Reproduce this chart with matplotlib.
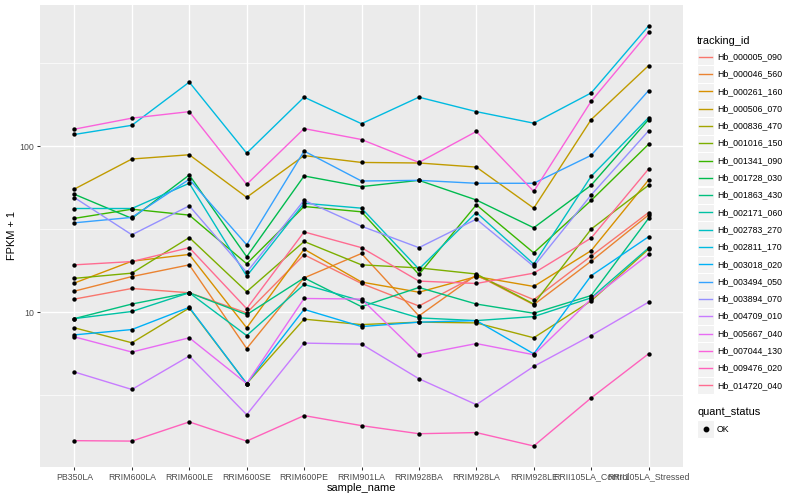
import matplotlib.pyplot as plt
import numpy as np
import matplotlib.ticker as ticker
from matplotlib.lines import Line2D
from matplotlib.patches import Rectangle

plt.rcParams['font.family'] = ['Liberation Sans', 'DejaVu Sans']

samples = ["PB350LA", "RRIM600LA", "RRIM600LE", "RRIM600SE", "RRIM600PE",
           "RRIM901LA", "RRIM928BA", "RRIM928LA", "RRIM928LE",
           "RRII105LA_Control", "RRII105LA_Stressed"]

ids = ["Hb_000005_090", "Hb_000046_560", "Hb_000261_160", "Hb_000506_070",
       "Hb_000836_470", "Hb_001016_150", "Hb_001341_090", "Hb_001728_030",
       "Hb_001863_430", "Hb_002171_060", "Hb_002783_270", "Hb_002811_170",
       "Hb_003018_020", "Hb_003494_050", "Hb_003894_070", "Hb_004709_010",
       "Hb_005667_040", "Hb_007044_130", "Hb_009476_020", "Hb_014720_040"]

colors = ["#F8766D", "#EA8331", "#D89000", "#C09B00", "#A3A500", "#7CAE00",
          "#39B600", "#00BB4E", "#00BF7D", "#00C1A3", "#00BFC4", "#00BAE0",
          "#00B0F6", "#35A2FF", "#9590FF", "#C77CFF", "#E76BF3", "#FA62DB",
          "#FF62BC", "#FF6C91"]

# FPKM + 1
Hb_000005_090 = [12.0, 13.9, 13.1, 9.90, 22.2, 14.9, 10.9, 16.6, 11.9, 21.8, 39.9]
Hb_000046_560 = [13.4, 16.4, 19.3, 6.04, 16.1, 22.6, 9.50, 16.8, 11.1, 20.3, 38.6]
Hb_000261_160 = [15.0, 20.3, 22.3, 8.05, 24.0, 15.2, 13.2, 16.4, 14.3, 23.5, 62.7]
Hb_000506_070 = [55.3, 83.9, 89.0, 49.3, 88.0, 80.0, 79.4, 75.0, 42.4, 145, 307]
Hb_000836_470 = [8.05, 6.54, 10.6, 3.71, 9.08, 8.42, 8.71, 8.62, 7.01, 11.7, 24.0]
Hb_001016_150 = [16.0, 17.2, 28.2, 13.3, 26.7, 19.3, 18.5, 17.0, 11.2, 31.7, 58.3]
Hb_001341_090 = [36.8, 41.8, 38.5, 19.6, 43.4, 40.3, 16.9, 44.4, 22.8, 47.2, 103]
Hb_001728_030 = [51.4, 36.8, 67.2, 21.6, 66.3, 57.2, 62.4, 47.5, 32.3, 58.3, 145]
Hb_001863_430 = [9.15, 11.2, 13.1, 9.67, 16.1, 10.8, 14.1, 11.2, 9.86, 12.6, 36.8]
Hb_002171_060 = [9.15, 10.1, 13.1, 7.23, 14.7, 11.7, 9.24, 8.90, 9.41, 12.2, 24.4]
Hb_002783_270 = [42.2, 42.2, 59.9, 16.5, 45.4, 42.4, 18.2, 39.9, 19.5, 66.0, 149]
Hb_002811_170 = [118, 134, 244, 91.0, 198, 137, 198, 162, 138, 210, 532]
Hb_003018_020 = [7.30, 7.86, 10.7, 3.71, 10.4, 8.19, 8.71, 8.90, 5.61, 16.6, 28.5]
Hb_003494_050 = [34.6, 37.3, 63.3, 25.5, 93.7, 61.8, 62.4, 59.9, 59.9, 88.3, 217]
Hb_003894_070 = [49.1, 29.3, 43.8, 17.4, 47.3, 33.0, 24.5, 36.4, 18.9, 50.9, 124]
Hb_004709_010 = [4.36, 3.42, 5.44, 2.41, 6.51, 6.42, 3.97, 2.77, 4.71, 7.23, 11.5]
Hb_005667_040 = [7.10, 5.75, 7.01, 3.71, 12.1, 12.0, 5.54, 6.47, 5.54, 12.0, 22.3]
Hb_007044_130 = [127, 148, 162, 59.0, 128, 110, 80.0, 123, 53.5, 187, 487]
Hb_009476_020 = [1.68, 1.67, 2.18, 1.67, 2.38, 2.07, 1.85, 1.88, 1.56, 3.04, 5.61]
Hb_014720_040 = [19.3, 20.2, 24.5, 10.5, 30.5, 24.5, 15.4, 14.9, 17.2, 28.0, 73.0]

series = [Hb_000005_090, Hb_000046_560, Hb_000261_160, Hb_000506_070,
          Hb_000836_470, Hb_001016_150, Hb_001341_090, Hb_001728_030,
          Hb_001863_430, Hb_002171_060, Hb_002783_270, Hb_002811_170,
          Hb_003018_020, Hb_003494_050, Hb_003894_070, Hb_004709_010,
          Hb_005667_040, Hb_007044_130, Hb_009476_020, Hb_014720_040]

W, H = 800, 500
fig = plt.figure(figsize=(8, 5), dpi=100)
ax = fig.add_axes([40 / W, (H - 467) / H, 643 / W, 462 / H])
ax.set_facecolor('#EBEBEB')

xAxis = np.arange(len(samples))
for vals, col in zip(series, colors):
    ax.plot(xAxis, vals, color=col, linewidth=1.0, zorder=3)
for vals in series:
    ax.scatter(xAxis, vals, s=10, color='black', linewidths=0, zorder=4)

ax.set_yscale('log')
allv = np.log10(np.concatenate([np.array(v, dtype=float) for v in series]))
lo, hi = allv.min(), allv.max()
r = hi - lo
ax.set_ylim(10 ** (lo - 0.05 * r), 10 ** (hi + 0.05 * r))
ax.set_xlim(-0.6, len(samples) - 0.4)

ax.set_xticks(xAxis)
ax.set_xticklabels(samples)
ax.yaxis.set_major_locator(ticker.FixedLocator([10, 100]))
ax.yaxis.set_major_formatter(ticker.FixedFormatter(["10", "100"]))
ax.yaxis.set_minor_locator(ticker.FixedLocator([10 ** 0.5, 10 ** 1.5, 10 ** 2.5]))
ax.yaxis.set_minor_formatter(ticker.NullFormatter())

ax.grid(which='major', color='white', linewidth=1.0)
ax.grid(which='minor', axis='y', color='white', linewidth=0.5)
ax.set_axisbelow(True)
for s in ax.spines.values():
    s.set_visible(False)
ax.tick_params(which='major', length=2, width=0.75, color='#333333',
               labelsize=6.3, labelcolor='#4D4D4D', pad=2)
ax.tick_params(which='minor', length=0)

fig.text((40 + 683) / 2 / W, 1 - 488 / H, "sample_name", fontsize=7.9,
         ha='center', va='center')
fig.text(12 / W, 1 - 236 / H, "FPKM + 1", fontsize=7.9, rotation=90,
         ha='center', va='center')


def fx(px):
    return px / W


def fy(py):
    return 1 - py / H


# legend: tracking_id
fig.text(fx(697), fy(40.7), "tracking_id", fontsize=7.9, ha='left', va='center')
for i, (name, col) in enumerate(zip(ids, colors)):
    yc = 56.7 + i * 17.3
    fig.add_artist(Rectangle((fx(697), fy(yc + 8.6)), 17 / W, 17.2 / H,
                             transform=fig.transFigure, facecolor='#F2F2F2',
                             edgecolor='white', linewidth=0.8))
    fig.add_artist(Line2D([fx(698.7), fx(712.3)], [fy(yc), fy(yc)],
                          transform=fig.transFigure, color=col, linewidth=1.0))
    fig.text(fx(717), fy(yc), name, fontsize=6.3, ha='left', va='center')

# legend: quant_status
fig.text(fx(697), fy(412.3), "quant_status", fontsize=7.9, ha='left', va='center')
fig.add_artist(Rectangle((fx(697), fy(429 + 8.6)), 17 / W, 17.2 / H,
                         transform=fig.transFigure, facecolor='#F2F2F2',
                         edgecolor='white', linewidth=0.8))
fig.add_artist(Line2D([fx(705.5)], [fy(429)], transform=fig.transFigure,
                      marker='o', markersize=3.2, color='black', linestyle='none'))
fig.text(fx(717), fy(429), "OK", fontsize=6.3, ha='left', va='center')

fig.savefig("out.png", dpi=100)
